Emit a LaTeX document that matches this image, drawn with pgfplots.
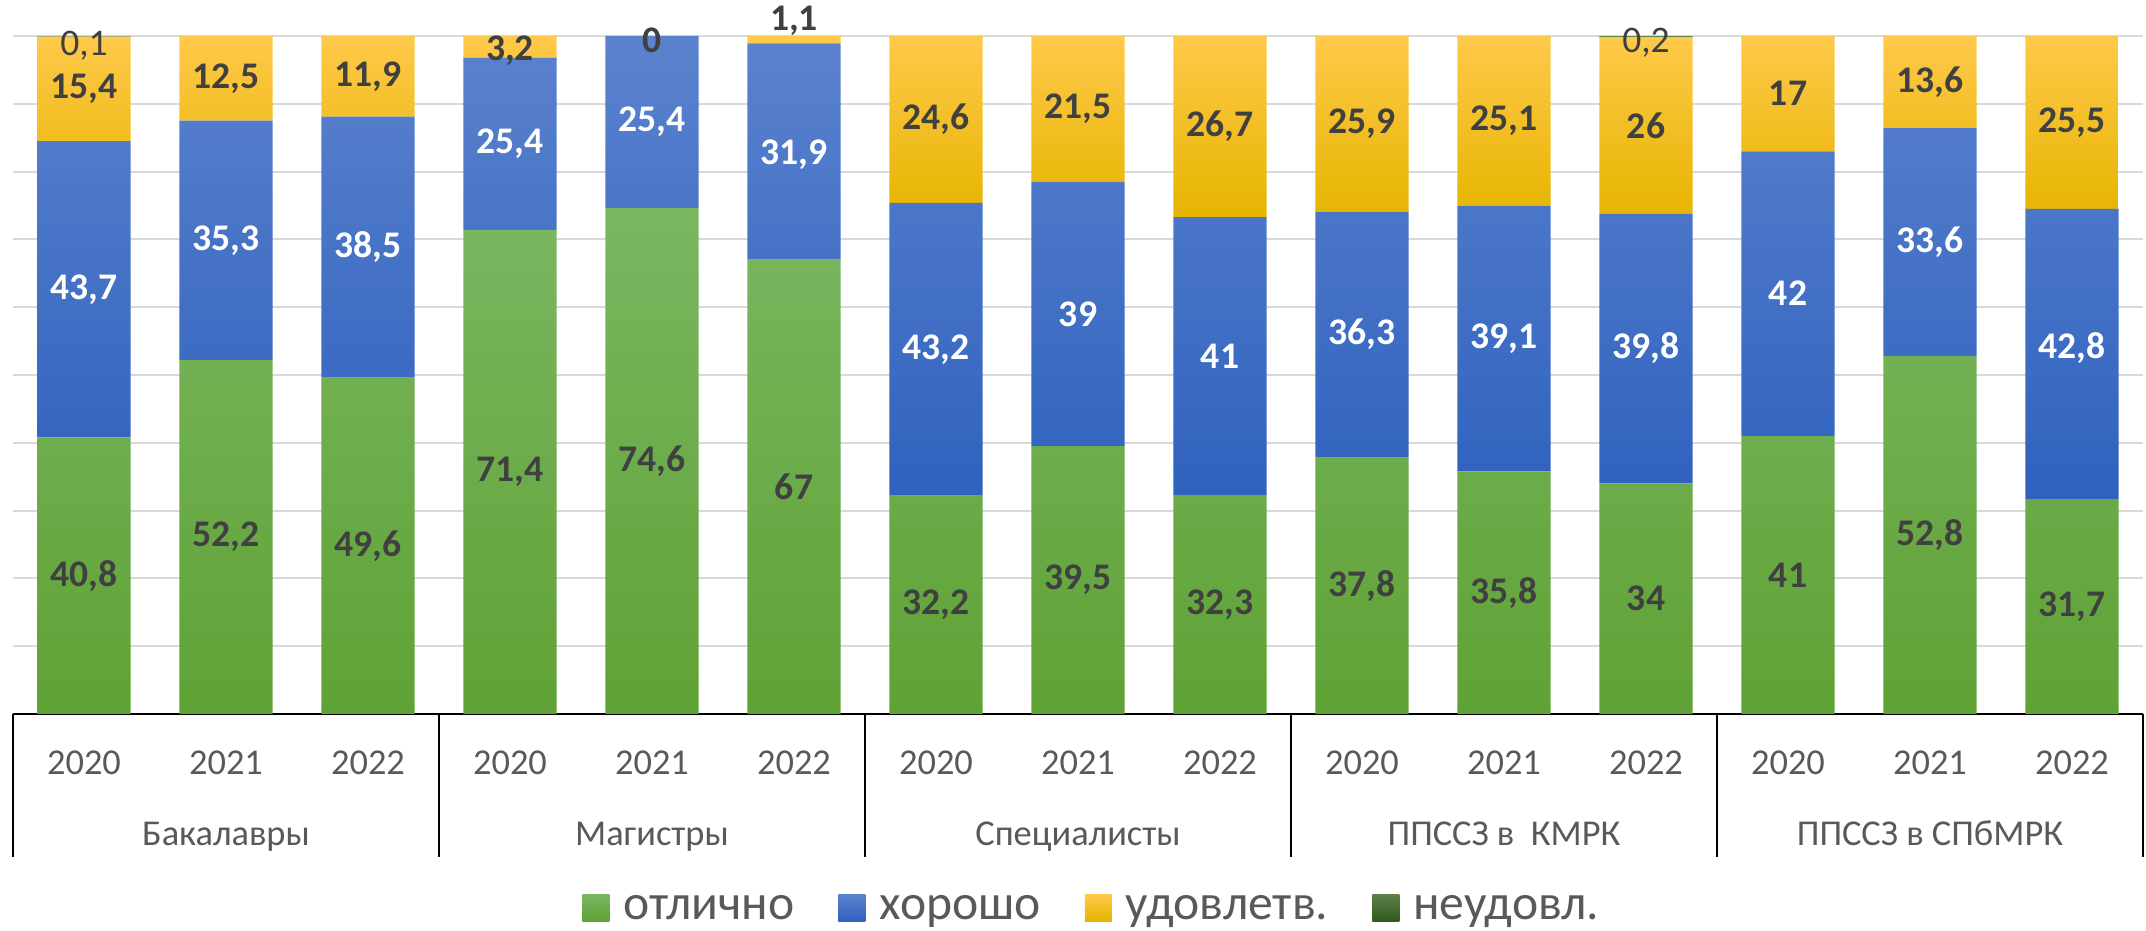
\documentclass[border=0pt]{standalone}
\usepackage{fontspec}
\setmainfont{Carlito}
\usepackage{pgfplots}
\usepackage{pgfplotstable}
\pgfplotsset{compat=1.18}
\definecolor{gtop}{HTML}{7BB661}
\definecolor{gbot}{HTML}{5FA235}
\definecolor{btop}{HTML}{5B82CE}
\definecolor{bbot}{HTML}{2F62BE}
\definecolor{ytop}{HTML}{FFC94A}
\definecolor{ybot}{HTML}{E6B400}
\definecolor{dtop}{HTML}{5E8049}
\definecolor{dbot}{HTML}{2E5A1C}
\definecolor{labc}{HTML}{404040}
\definecolor{tickc}{HTML}{595959}
\definecolor{gridc}{HTML}{D9D9D9}

\pgfplotstableread{
x otl hor udov neud
0 40.8 43.7 15.4 0.1
1 52.2 35.3 12.5 0
2 49.6 38.5 11.9 0
3 71.4 25.4 3.2 0
4 74.6 25.4 0 0
5 67 31.9 1.1 0
6 32.2 43.2 24.6 0
7 39.5 39 21.5 0
8 32.3 41 26.7 0
9 37.8 36.3 25.9 0
10 35.8 39.1 25.1 0
11 34 39.8 26 0.2
12 41 42 17 0
13 52.8 33.6 13.6 0
14 31.7 42.8 25.5 0
}\data

\pgfplotstableread{
x y lab
0 20.4 40,8
1 26.1 52,2
2 24.8 49,6
3 35.7 71,4
4 37.3 74,6
5 33.5 67
6 16.1 32,2
7 19.75 39,5
8 16.15 32,3
9 18.9 37,8
10 17.9 35,8
11 17 34
12 20.5 41
13 26.4 52,8
14 15.85 31,7
}\labG

\pgfplotstableread{
x y lab
0 62.65 43,7
1 69.85 35,3
2 68.85 38,5
3 84.1 25,4
4 87.3 25,4
5 82.45 31,9
6 53.8 43,2
7 59 39
8 52.8 41
9 55.95 36,3
10 55.35 39,1
11 53.9 39,8
12 62 42
13 69.6 33,6
14 53.95 42,8
}\labB

\pgfplotstableread{
x y lab
0 92.2 15,4
1 93.75 12,5
2 94.05 11,9
3 97.9 3,2
4 99.3 0
5 102.3 1,1
6 87.7 24,6
7 89.25 21,5
8 86.65 26,7
9 87.05 25,9
10 87.45 25,1
11 86.8 26
12 91.5 17
13 93.2 13,6
14 87.25 25,5
}\labY

\pgfplotstableread{
x y lab
0 98.6 0,1
11 99.0 0,2
}\labD

\pgfplotsset{
  labplot/.style={forget plot, sharp plot, draw=none, fill=none, mark=none,
    nodes near coords, point meta=explicit symbolic,
    every node near coord/.append style={anchor=center, font=\fontsize{9.4}{11}\selectfont\bfseries, text=labc}},
}

\begin{document}
\begin{tikzpicture}
\useasboundingbox (-3.25pt,-54.25pt) rectangle (533.25pt,178.5pt);
\begin{axis}[
  at={(0,0)}, anchor=south west,
  scale only axis, width=532.5pt, height=169.5pt,
  xmin=-0.5, xmax=14.5, ymin=0, ymax=100,
  ybar stacked, bar width=0.655,
  axis x line*=bottom, axis y line*=left,
  x axis line style={-, black, line width=0.6pt},
  y axis line style={draw=none},
  ytick={0,10,...,100}, yticklabels={},
  ymajorgrids, major grid style={gridc, line width=0.5pt},
  xtick={0,...,14},
  xticklabels={2020,2021,2022,2020,2021,2022,2020,2021,2022,2020,2021,2022,2020,2021,2022},
  major tick length=0pt,
  /pgf/number format/assume math mode=true,
  xticklabel style={anchor=base, yshift=-15.25pt, font=\fontsize{9.1}{11}\selectfont, text=tickc},
  extra x ticks={1,4,7,10,13},
  extra x tick labels={Бакалавры,Магистры,Специалисты,ППССЗ в\ \ КМРК,ППССЗ в СПбМРК},
  extra x tick style={grid=none, xticklabel style={yshift=-17.65pt}},
  clip=false,
  legend columns=4,
  legend style={draw=none, fill=none, at={(0.506,-0.2861)}, anchor=center,
    font=\fontsize{12.4}{14}\selectfont, text=tickc, inner sep=0pt,
    nodes={inner sep=0pt, text height=5.8pt, text depth=0pt},
    /tikz/every even column/.append style={column sep=11pt}},
  legend image code/.code={\path (0pt,0pt) -- (10.25pt,0pt); \draw[#1,draw=none] (0pt,-3.375pt) rectangle (6.75pt,3.375pt);},
]
\addplot[draw=none, top color=gtop, bottom color=gbot] table[x=x,y=otl]{\data};
\addplot[draw=none, top color=btop, bottom color=bbot] table[x=x,y=hor]{\data};
\addplot[draw=none, top color=ytop, bottom color=ybot] table[x=x,y=udov]{\data};
\addplot[draw=none, top color=dtop, bottom color=dbot] table[x=x,y=neud]{\data};
\legend{отлично,хорошо,удовлетв.,неудовл.}
\pgfplotsinvokeforeach{-0.5,2.5,5.5,8.5,11.5,14.5}{
  \draw[black, line width=0.5pt] (axis cs:#1,0) -- ([yshift=-35.75pt]axis cs:#1,0);
}
\end{axis}
\begin{axis}[
  at={(0,0)}, anchor=south west,
  scale only axis, width=532.5pt, height=169.5pt,
  xmin=-0.5, xmax=14.5, ymin=0, ymax=100,
  hide axis, clip=false,
]
\addplot[labplot] table[x=x,y=y,meta=lab]{\labG};
\addplot[labplot, every node near coord/.append style={text=white}] table[x=x,y=y,meta=lab]{\labB};
\addplot[labplot] table[x=x,y=y,meta=lab]{\labY};
\addplot[labplot, every node near coord/.append style={font=\fontsize{9.4}{11}\selectfont\mdseries}] table[x=x,y=y,meta=lab]{\labD};
\end{axis}
\end{tikzpicture}
\end{document}
